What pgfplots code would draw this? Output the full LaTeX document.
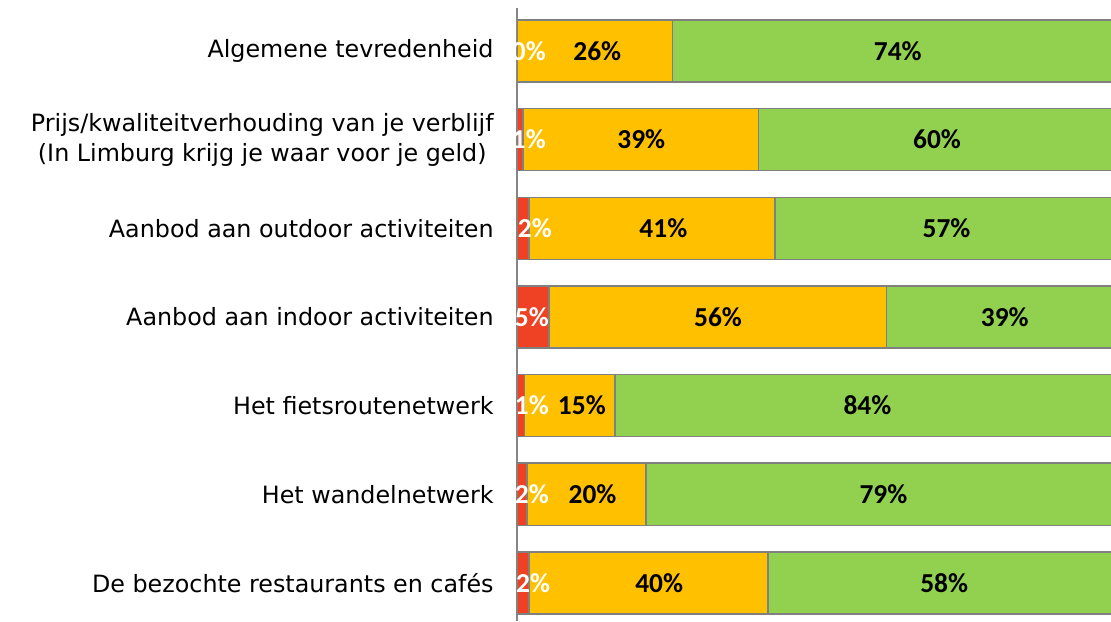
\documentclass[border=0pt]{standalone}
\usepackage{pgfplots}
\pgfplotsset{compat=1.18}
\usepackage{fontspec}
\setmainfont{DejaVu Sans}
\newfontfamily\numfont{Carlito}
\definecolor{cred}{RGB}{239,65,35}
\definecolor{corange}{RGB}{255,192,0}
\definecolor{cgreen}{RGB}{146,208,80}
\definecolor{cedge}{RGB}{128,128,128}
\definecolor{axisgray}{RGB}{134,134,134}
\begin{document}
\begin{tikzpicture}
\pgfplotsset{
  base/.style={scale only axis, width=297pt, height=306.5pt,
    xmin=0, xmax=99.85, ymin=-0.485, ymax=6.43, y dir=reverse}
}
\begin{axis}[base, name=ax, xbar stacked, bar width=0.7,
  axis x line=none, axis y line=left,
  axis line style={draw=axisgray, line width=0.9pt, -},
  ytick={0,...,6},
  yticklabels={Algemene tevredenheid,
    {Prijs/kwaliteitverhouding van je verblijf\\(In Limburg krijg je waar voor je geld)},
    Aanbod aan outdoor activiteiten,
    Aanbod aan indoor activiteiten,
    Het fietsroutenetwerk,
    Het wandelnetwerk,
    De bezochte restaurants en cafés},
  major tick length=0pt,
  yticklabel style={font=\fontsize{11.9}{15}\selectfont, align=center, inner sep=0pt, xshift=-11.5pt},
  every axis plot/.append style={draw=cedge, line width=0.75pt}]
\addplot[fill=cred] coordinates {(0,0) (1.0,1) (2.0,2) (5.4,3) (1.3,4) (1.7,5) (2.0,6)};
\addplot[fill=corange] coordinates {(26.1,0) (39.6,1) (41.4,2) (56.7,3) (15.2,4) (20.0,5) (40.2,6)};
\addplot[fill=cgreen] coordinates {(73.9,0) (59.4,1) (56.6,2) (37.9,3) (83.5,4) (78.3,5) (57.8,6)};
\end{axis}
\begin{axis}[base, hide axis, clip=false,
  nodes near coords, point meta=explicit symbolic,
  every node near coord/.append style={anchor=center, inner sep=0pt,
    font=\numfont\bfseries\fontsize{13.7}{14}\selectfont}]
\addplot[only marks, mark=*, mark size=0pt, mark options={draw=none, fill=none},
  every node near coord/.append style={text=white}]
  coordinates {(2.0,0)[0\%] (2.0,1)[1\%] (3.0,2)[2\%] (2.5,3)[5\%] (2.5,4)[1\%] (2.5,5)[2\%] (2.7,6)[2\%]};
\addplot[only marks, mark=*, mark size=0pt, mark options={draw=none, fill=none},
  every node near coord/.append style={text=black}]
  coordinates {(13.5,0)[26\%] (64.0,0)[74\%] (20.9,1)[39\%] (70.6,1)[60\%]
    (24.6,2)[41\%] (72.2,2)[57\%] (33.8,3)[56\%] (82.0,3)[39\%]
    (10.9,4)[15\%] (58.9,4)[84\%] (12.7,5)[20\%] (61.6,5)[79\%]
    (23.9,6)[40\%] (71.8,6)[58\%]};
\end{axis}
\pgfresetboundingbox
\useasboundingbox ([xshift=-258.5pt]ax.south west) rectangle ([yshift=4pt]ax.north east);
\end{tikzpicture}
\end{document}
